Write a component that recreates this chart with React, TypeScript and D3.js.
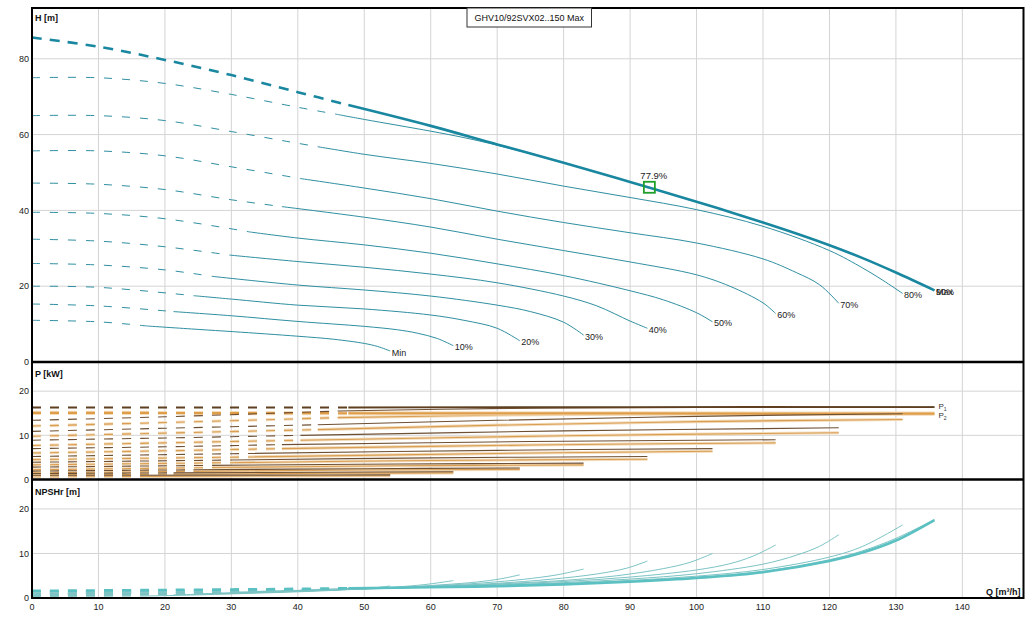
import * as d3 from "d3";

type Pt = [number, number];

// curve order: Min .. Max
const speedLabels = ["Min", "10%", "20%", "30%", "40%", "50%", "60%", "70%", "80%", "90%", "Max"];
// flow [m³/h] where each curve turns from dashed to solid
const solidFrom = [17.3, 21.3, 24.3, 27.1, 29.8, 32.8, 37.6, 40.4, 43, 46, 47.6];

// H [m] vs Q [m³/h]
const headCurves: Pt[][] = [
  [[0, 11], [10, 10.6], [17.3, 9.5], [25, 8.6], [30.3, 8], [40, 6.8], [45.4, 6], [50, 4.9], [52, 4.1], [53.9, 2.9]],
  [[0, 15.3], [10, 14.8], [21.3, 13.3], [30, 12.2], [40, 10.7], [50, 9.4], [55, 8.5], [58, 7.6], [61, 6.2], [63.4, 4.3]],
  [[0, 20], [10, 19.7], [24.3, 17.5], [30, 16.6], [40, 15], [50, 14], [60, 12.4], [65, 11], [70, 8.9], [73.4, 5.6]],
  [[0, 26], [10, 25.6], [20, 24.3], [27.1, 22.6], [40, 20.3], [50, 19], [60, 17.4], [70, 15], [75, 13.3], [80, 10.5], [83, 7.1]],
  [[0, 32.4], [10, 31.9], [20, 30.4], [29.8, 28.2], [40, 26.5], [50, 25], [60, 23.2], [70, 20.9], [80, 17.4], [85, 14.8], [90, 10.8], [92.6, 8.9]],
  [[0, 39.5], [10, 39.2], [20, 37.8], [32.8, 34.3], [40, 32.7], [50, 30.9], [60, 28.7], [70, 25.9], [80, 22.8], [90, 18.8], [95, 16.4], [100, 13], [102.4, 10.6]],
  [[0, 47.2], [10, 46.9], [20, 45.5], [30, 42.8], [37.6, 41], [50, 38.2], [60, 35.6], [70, 32.4], [80, 29.4], [90, 26.4], [100, 23], [105, 20], [110, 15.6], [111.9, 12.8]],
  [[0, 55.7], [10, 55.7], [20, 54.4], [30, 51.5], [40.4, 48.4], [50, 45.9], [60, 43.1], [70, 39.8], [80, 36.8], [90, 34.1], [100, 31.4], [110, 27.2], [115, 23.6], [118.5, 20.4], [121.4, 15.5]],
  [[0, 65], [10, 65], [20, 63.7], [30, 60.8], [40, 57.7], [43, 56.8], [50, 54.8], [60, 52.4], [70, 49.6], [80, 46.4], [90, 43.4], [100, 40.2], [110, 35.8], [120, 29.4], [125, 24.8], [128, 21.6], [131, 18.1]],
  [[0, 75], [10, 75], [20, 73.5], [30, 70.6], [40, 67.2], [46, 65.3], [50, 64], [60, 60.9], [65, 59.2], [70, 57.2], [80, 52.6], [90, 47.5], [100, 42.3], [105, 39.6], [110, 36.8], [115, 33.9], [120, 30.8], [125, 27.4], [130, 23.6], [135.8, 18.9]],
  [[0, 85.6], [10, 83.2], [20, 79.7], [30, 75.7], [40, 71.2], [47.6, 67.8], [60, 62.3], [70, 57.4], [80, 52.6], [90, 47.5], [100, 42.3], [105, 39.6], [110, 36.8], [115, 33.9], [120, 30.8], [125, 27.4], [130, 23.6], [135.8, 18.9]],
];

// P1 [kW]
const p1Curves: Pt[][] = [
  [[0, 0.95], [17.3, 0.95], [35, 1.0], [53.9, 1.05]],
  [[0, 1.35], [21.3, 1.5], [45, 1.65], [63.4, 1.75]],
  [[0, 1.9], [24.3, 2.2], [50, 2.45], [73.4, 2.6]],
  [[0, 2.8], [27.1, 3.2], [55, 3.5], [83, 3.7]],
  [[0, 3.9], [29.8, 4.4], [60, 4.9], [92.6, 5.2]],
  [[0, 5.2], [32.8, 5.9], [70, 6.6], [102.4, 7.0]],
  [[0, 7.0], [20, 7.4], [37.6, 7.9], [75, 8.6], [111.9, 9.0]],
  [[0, 8.9], [20, 9.4], [40.4, 10.0], [80, 11.0], [121.4, 11.7]],
  [[0, 10.9], [20, 11.6], [43, 12.4], [70, 13.4], [100, 14.3], [131, 14.9]],
  [[0, 13.4], [20, 14.2], [46, 15.5], [72, 16.1], [100, 16.3], [135.8, 16.4]],
  [[0, 16.3], [47.6, 16.3], [90, 16.4], [135.8, 16.4]],
];

// P2 [kW]
const p2Curves: Pt[][] = [
  [[0, 0.65], [17.3, 0.7], [35, 0.8], [53.9, 0.85]],
  [[0, 1.0], [21.3, 1.2], [45, 1.4], [63.4, 1.5]],
  [[0, 1.5], [24.3, 1.85], [50, 2.15], [73.4, 2.3]],
  [[0, 2.2], [27.1, 2.7], [55, 3.1], [83, 3.3]],
  [[0, 3.3], [29.8, 3.8], [60, 4.3], [92.6, 4.6]],
  [[0, 4.5], [32.8, 5.1], [70, 5.9], [102.4, 6.4]],
  [[0, 6.0], [20, 6.5], [37.6, 7.0], [75, 7.8], [111.9, 8.3]],
  [[0, 7.7], [20, 8.3], [40.4, 8.9], [80, 9.9], [121.4, 10.6]],
  [[0, 9.8], [20, 10.5], [43, 11.3], [70, 12.3], [100, 13.1], [131, 13.6]],
  [[0, 12.1], [20, 12.9], [46, 14.0], [72, 14.6], [100, 14.85], [135.8, 14.9]],
  [[0, 15.1], [47.6, 15.0], [90, 14.95], [135.8, 14.9]],
];

// NPSHr [m]
const npshCurves: Pt[][] = [
  [[0, 0.35], [17.3, 0.45], [25, 0.7], [35, 1.15], [42, 1.5], [48, 1.9], [51, 2.2], [53.9, 2.7]],
  [[0, 0.45], [21.3, 0.7], [30, 1.05], [40, 1.5], [48, 2.0], [55, 2.5], [59, 3.0], [63.4, 3.9]],
  [[0, 0.55], [24.3, 0.9], [35, 1.3], [45, 1.8], [55, 2.4], [62, 3.0], [67, 3.6], [70.5, 4.3], [73.4, 5.2]],
  [[0, 0.65], [20, 0.85], [27.1, 1.05], [40, 1.5], [50, 2.1], [60, 2.7], [68, 3.4], [74, 4.2], [79, 5.2], [83, 6.5]],
  [[0, 0.8], [20, 1.0], [29.8, 1.3], [45, 1.85], [60, 2.6], [70, 3.3], [78, 4.2], [85, 5.4], [89.5, 6.7], [92.6, 8.3]],
  [[0, 0.9], [20, 1.1], [32.8, 1.45], [50, 2.05], [60, 2.55], [70, 3.15], [80, 3.95], [88, 5.0], [95, 6.6], [99, 8.0], [102.4, 10.0]],
  [[0, 1.0], [20, 1.2], [37.6, 1.65], [50, 2.0], [60, 2.5], [70, 3.05], [80, 3.7], [90, 4.7], [100, 6.3], [105, 7.7], [108.5, 9.4], [111.9, 11.9]],
  [[0, 1.15], [20, 1.35], [40.4, 1.8], [60, 2.45], [70, 2.9], [80, 3.45], [90, 4.25], [100, 5.45], [110, 7.6], [115, 9.6], [118.5, 11.6], [121.4, 14.2]],
  [[0, 1.3], [20, 1.5], [43, 1.95], [60, 2.45], [70, 2.8], [80, 3.25], [90, 3.95], [100, 4.9], [110, 6.4], [120, 9.2], [125, 11.6], [131, 16.4]],
  [[0, 1.45], [20, 1.65], [46, 2.1], [60, 2.45], [70, 2.75], [80, 3.15], [90, 3.75], [100, 4.65], [110, 6.0], [120, 8.6], [125, 10.6], [130, 13.4], [135.8, 17.6]],
  [[0, 1.6], [20, 1.8], [40, 2.05], [47.6, 2.2], [60, 2.4], [70, 2.65], [80, 3.05], [90, 3.65], [100, 4.5], [110, 5.8], [120, 8.3], [125, 10.2], [130, 12.9], [135.8, 17.5]],
];

const dutyPoint: Pt = [92.9, 46.1];
const dutyLabel = "77.9%";
const title = "GHV10/92SVX02..150 Max";

const qTicks = [0, 10, 20, 30, 40, 50, 60, 70, 80, 90, 100, 110, 120, 130, 140];
const hTicks = [0, 20, 40, 60, 80];
const pTicks = [0, 10, 20];
const npshTicks = [0, 10, 20];

const W = 1035;
const H = 622;
const FONT = "'Liberation Sans', Arial, sans-serif";

const x = d3.scaleLinear().domain([0, 149.2]).range([32, 1023.5]);
const yH = d3.scaleLinear().domain([0, 93.4]).range([362, 8]);
const yP = d3.scaleLinear().domain([0, 26.6]).range([479.5, 362]);
const yN = d3.scaleLinear().domain([0, 26.5]).range([598, 480]);

const makeLine = (y: d3.ScaleLinear<number, number>) =>
  d3
    .line<Pt>()
    .x((d) => x(d[0]))
    .y((d) => y(d[1]))
    .curve(d3.curveCatmullRom.alpha(0.5));

const lineH = makeLine(yH);
const lineP = makeLine(yP);
const lineN = makeLine(yN);

// split a curve at the flow where it turns solid
const split = (pts: Pt[], qs: number) => ({
  dashed: pts.filter((p) => p[0] <= qs),
  solid: pts.filter((p) => p[0] >= qs),
});

const CurveSet = ({
  curves,
  line,
  color,
  maxColor,
  dash,
  maxDash,
  width,
  maxWidth,
  halo,
}: {
  curves: Pt[][];
  line: d3.Line<Pt>;
  color: string;
  maxColor: string;
  dash: string;
  maxDash: string;
  width: number;
  maxWidth: number;
  halo?: string;
}) => (
  <g fill="none">
    {curves.map((pts, i) => {
      const { dashed, solid } = split(pts, solidFrom[i]);
      const isMax = i === curves.length - 1;
      const c = isMax ? maxColor : color;
      const w = isMax ? maxWidth : width;
      const d1 = line(dashed) || "";
      const d2 = line(solid) || "";
      return (
        <g key={i}>
          {halo && (
            <>
              <path d={d1} stroke={halo} strokeWidth={w + 2} strokeDasharray={isMax ? maxDash : dash} />
              <path d={d2} stroke={halo} strokeWidth={w + 2} />
            </>
          )}
          <path d={d1} stroke={c} strokeWidth={w} strokeDasharray={isMax ? maxDash : dash} />
          <path d={d2} stroke={c} strokeWidth={w} />
        </g>
      );
    })}
  </g>
);

export default function App() {
  const gridColor = "#d4d4d4";
  const pEnd1 = p1Curves[10][p1Curves[10].length - 1];
  const pEnd2 = p2Curves[10][p2Curves[10].length - 1];
  return (
    <svg
      width={W}
      height={H}
      viewBox={`0 0 ${W} ${H}`}
      style={{ position: "absolute", left: 0, top: 0, background: "#fff" }}
      fontFamily={FONT}
    >
      <rect x={0} y={0} width={W} height={H} fill="#fff" />

      {/* grid */}
      <g stroke={gridColor} strokeWidth={1}>
        {qTicks.slice(1).map((q) => (
          <line key={q} x1={x(q)} x2={x(q)} y1={8} y2={598} />
        ))}
        {hTicks.slice(1).map((v) => (
          <line key={"h" + v} x1={32} x2={1023.5} y1={yH(v)} y2={yH(v)} />
        ))}
        {pTicks.slice(1).map((v) => (
          <line key={"p" + v} x1={32} x2={1023.5} y1={yP(v)} y2={yP(v)} />
        ))}
        {npshTicks.slice(1).map((v) => (
          <line key={"n" + v} x1={32} x2={1023.5} y1={yN(v)} y2={yN(v)} />
        ))}
      </g>

      {/* NPSHr */}
      <CurveSet
        curves={npshCurves}
        line={lineN}
        color="#7cc3c4"
        maxColor="#5bc0c1"
        dash="9,9"
        maxDash="9,9"
        width={1}
        maxWidth={2.6}
      />

      {/* P2 then P1 */}
      <CurveSet
        curves={p2Curves}
        line={lineP}
        color="#d99e52"
        maxColor="#e09d48"
        dash="9,9"
        maxDash="9,9"
        width={1.1}
        maxWidth={2.2}
        halo="#f3dcbc"
      />
      <CurveSet
        curves={p1Curves}
        line={lineP}
        color="#6e5034"
        maxColor="#5e3f20"
        dash="9,9"
        maxDash="9,9"
        width={1.1}
        maxWidth={1.8}
      />

      {/* H */}
      <CurveSet
        curves={headCurves}
        line={lineH}
        color="#2f8fa1"
        maxColor="#1a87a0"
        dash="8,10"
        maxDash="10,8"
        width={1}
        maxWidth={2.6}
      />

      {/* end labels of head curves */}
      <g fontSize={9} fill="#222">
        {headCurves.map((pts, i) => {
          const last = pts[pts.length - 1];
          return (
            <text key={i} x={x(last[0]) + 1.5} y={yH(last[1]) + 4.5}>
              {speedLabels[i]}
            </text>
          );
        })}
      </g>

      {/* duty point */}
      <rect
        x={x(dutyPoint[0]) - 5.5}
        y={yH(dutyPoint[1]) - 5.5}
        width={11}
        height={11}
        fill="none"
        stroke="#1f9e2a"
        strokeWidth={1.8}
      />
      <text x={x(dutyPoint[0]) - 9} y={yH(dutyPoint[1]) - 8.5} fontSize={9.5} fill="#222">
        {dutyLabel}
      </text>

      {/* P1 / P2 labels */}
      <g fontSize={8} fill="#333">
        <text x={x(pEnd1[0]) + 4} y={yP(pEnd1[1]) + 2}>
          P<tspan fontSize={5} dy={1.5}>1</tspan>
        </text>
        <text x={x(pEnd2[0]) + 4} y={yP(pEnd2[1]) + 4.5}>
          P<tspan fontSize={5} dy={1.5}>2</tspan>
        </text>
      </g>

      {/* frame */}
      <rect x={32} y={8} width={991.5} height={590} fill="none" stroke="#000" strokeWidth={2} />
      <line x1={32} x2={1023.5} y1={362} y2={362} stroke="#000" strokeWidth={2.6} />
      <line x1={32} x2={1023.5} y1={479.5} y2={479.5} stroke="#000" strokeWidth={2.6} />

      {/* title box */}
      <rect x={467} y={8} width={124.5} height={19} fill="#fff" stroke="#333" strokeWidth={1} />
      <text x={529.2} y={21} fontSize={9} textAnchor="middle" fill="#111">
        {title}
      </text>

      {/* axis labels */}
      <g fontSize={9} fontWeight="bold" fill="#111">
        <text x={35} y={20.5}>H [m]</text>
        <text x={35} y={376.5}>P [kW]</text>
        <text x={35} y={494.5}>NPSHr [m]</text>
        <text x={1020.5} y={595} textAnchor="end">
          Q [m³/h]
        </text>
      </g>

      {/* tick labels */}
      <g fontSize={9} fill="#222">
        {hTicks.map((v) => (
          <text key={"th" + v} x={29} y={yH(v) + 3.3} textAnchor="end">
            {v}
          </text>
        ))}
        {pTicks.map((v) => (
          <text key={"tp" + v} x={29} y={yP(v) + 3.3} textAnchor="end">
            {v}
          </text>
        ))}
        {npshTicks.map((v) => (
          <text key={"tn" + v} x={29} y={yN(v) + 3.3} textAnchor="end">
            {v}
          </text>
        ))}
        {qTicks.map((q) => (
          <text key={"tq" + q} x={x(q)} y={610} textAnchor="middle">
            {q}
          </text>
        ))}
      </g>
    </svg>
  );
}
